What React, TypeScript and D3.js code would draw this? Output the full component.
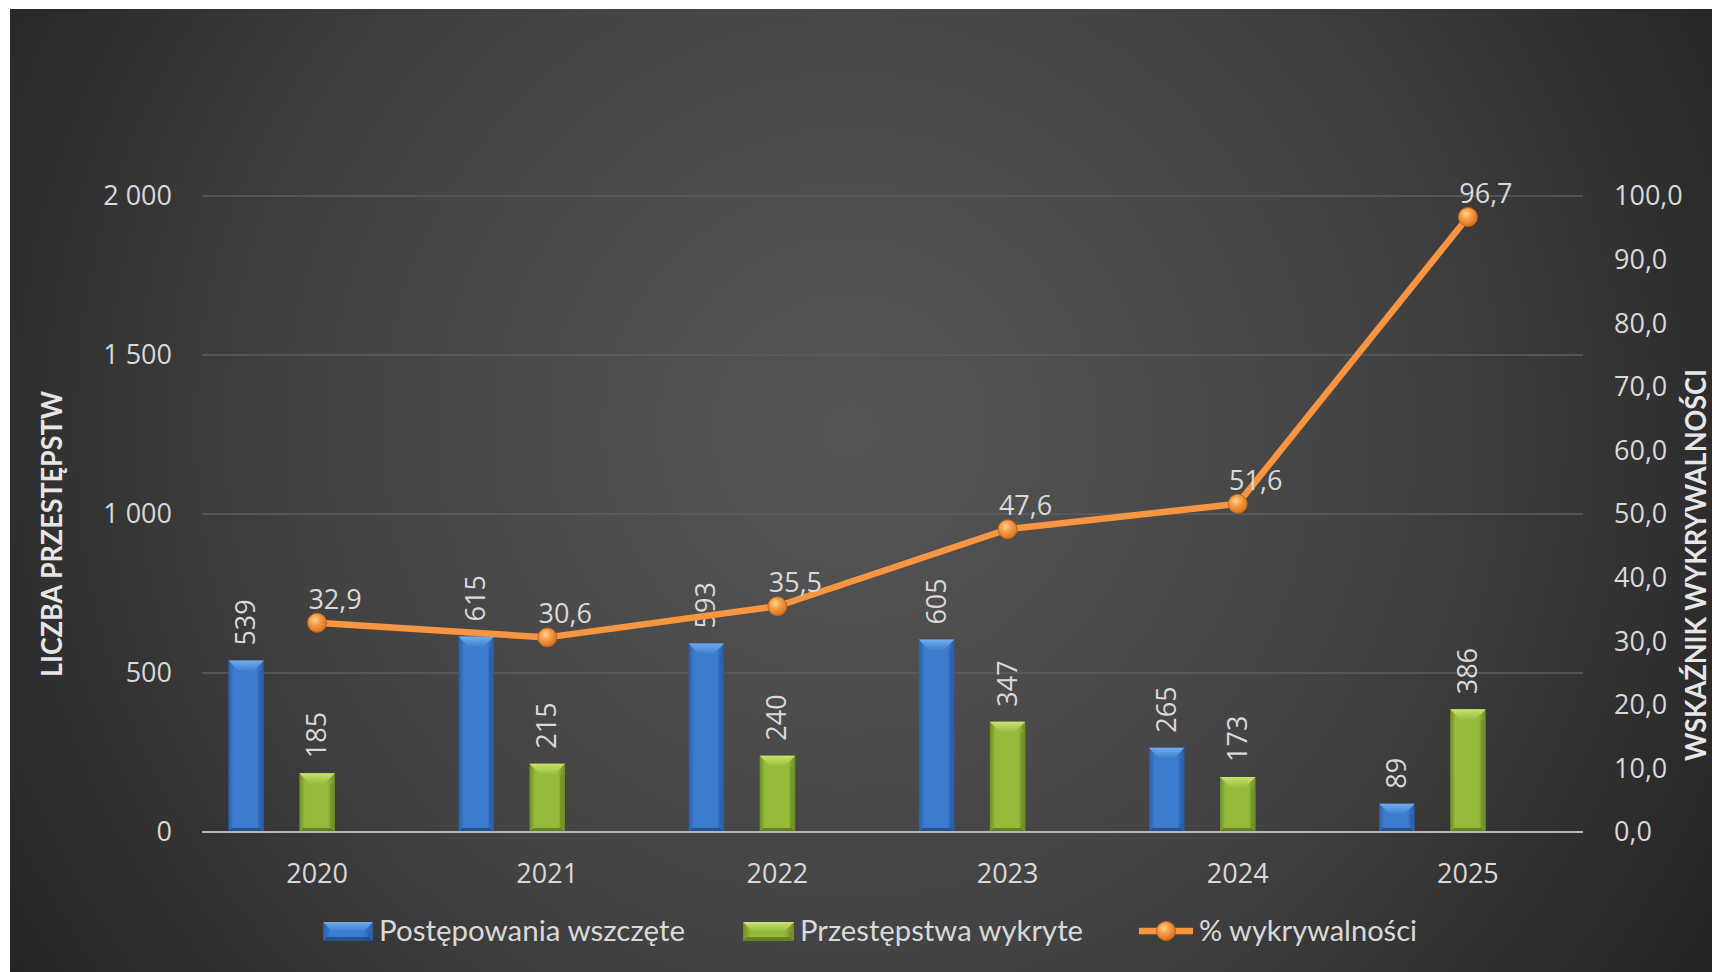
import React from 'react';
import * as d3 from 'd3';

const categories = ['2020', '2021', '2022', '2023', '2024', '2025'];
const initiated = [539, 615, 593, 605, 265, 89];
const detected = [185, 215, 240, 347, 173, 386];
const detectionRate = [32.9, 30.6, 35.5, 47.6, 51.6, 96.7];
const leftTicks = [0, 500, 1000, 1500, 2000];
const rightTicks = [0, 10, 20, 30, 40, 50, 60, 70, 80, 90, 100];
const seriesNames = ['Postępowania wszczęte', 'Przestępstwa wykryte', '% wykrywalności'];
const leftTitle = 'LICZBA PRZESTĘPSTW';
const rightTitle = 'WSKAŹNIK WYKRYWALNOŚCI';

const W = 1712;
const H = 972;
const PL = 202;
const PR = 1583;
const PT = 196;
const PB = 832;

const locale = d3.formatLocale({ decimal: ',', thousands: ' ', grouping: [3], currency: ['', ''] });
const fmtLeft = locale.format(',d');
const fmtRight = locale.format('.1f');

const NUM_FONT = "'Open Sans', 'DejaVu Sans', sans-serif";
const TXT_FONT = "Lato, 'Open Sans', sans-serif";
const TEXT_COLOR = '#d9d9d9';

const palette = {
  blue: { edge: '#2a5ca4', mid: '#3c7cce', top: '#74adee', bottom: '#1f4a86' },
  green: { edge: '#6c8d25', mid: '#96bb3b', top: '#cbe370', bottom: '#5a761d' },
};

function Bar({ x, y, w, h, c, id }: { x: number; y: number; w: number; h: number; c: any; id: string }) {
  const b = Math.min(11, h / 2);
  const s = Math.min(5, w / 4);
  const bb = Math.min(4, h / 4);
  return (
    <g>
      <rect x={x} y={y} width={w} height={h} fill={`url(#${id}-body)`} />
      <polygon
        points={`${x},${y} ${x + w},${y} ${x + w - b},${y + b} ${x + b},${y + b}`}
        fill={`url(#${id}-top)`}
      />
      <polygon
        points={`${x},${y + h} ${x + w},${y + h} ${x + w - bb},${y + h - bb} ${x + bb},${y + h - bb}`}
        fill={c.bottom}
        opacity={0.8}
      />
      <rect x={x + w - s} y={y + b} width={s} height={Math.max(0, h - b - bb)} fill={c.edge} opacity={0.55} />
    </g>
  );
}

export default function App() {
  const x0 = d3.scaleBand<string>().domain(categories).range([PL, PR]).padding(0);
  const x1 = d3
    .scaleBand<string>()
    .domain(['initiated', 'detected', 'spacer'])
    .range([0, x0.bandwidth()])
    .paddingInner(0.5)
    .paddingOuter(0.37);
  const yL = d3.scaleLinear().domain([0, 2000]).range([PB, PT]);
  const yR = d3.scaleLinear().domain([0, 100]).range([PB, PT]);
  const cx = (c: string) => (x0(c) as number) + x0.bandwidth() / 2;

  const linePath = d3
    .line<number>()
    .x((_, i) => cx(categories[i]))
    .y((d) => yR(d))(detectionRate) as string;

  const bw = x1.bandwidth();

  const bars: any[] = [];
  categories.forEach((c, i) => {
    [
      { key: 'initiated', v: initiated[i], col: palette.blue, id: 'blue' },
      { key: 'detected', v: detected[i], col: palette.green, id: 'green' },
    ].forEach((s) => {
      const bx = (x0(c) as number) + (x1(s.key) as number);
      const by = yL(s.v);
      bars.push({ c, key: s.key, x: bx, y: by, w: bw, h: PB - by, col: s.col, id: s.id, v: s.v });
    });
  });

  const legendY = 931;

  return (
    <svg
      width={W}
      height={H}
      viewBox={`0 0 ${W} ${H}`}
      style={{ position: 'absolute', left: 0, top: 0, display: 'block' }}
    >
      <defs>
        <radialGradient id="bg" gradientUnits="userSpaceOnUse" cx={850} cy={430} r={1000}>
          <stop offset="0" stopColor="#565656" />
          <stop offset="0.55" stopColor="#424242" />
          <stop offset="1" stopColor="#242424" />
        </radialGradient>
        {(['blue', 'green'] as const).map((k) => (
          <React.Fragment key={k}>
            <linearGradient id={`${k}-body`} x1="0" x2="1" y1="0" y2="0">
              <stop offset="0" stopColor={palette[k].edge} />
              <stop offset="0.15" stopColor={palette[k].mid} />
              <stop offset="0.8" stopColor={palette[k].mid} />
              <stop offset="1" stopColor={palette[k].edge} />
            </linearGradient>
            <linearGradient id={`${k}-top`} x1="0" x2="0" y1="0" y2="1">
              <stop offset="0" stopColor={palette[k].top} />
              <stop offset="1" stopColor={palette[k].mid} />
            </linearGradient>
          </React.Fragment>
        ))}
        <radialGradient id="marker" cx="0.4" cy="0.35" r="0.65">
          <stop offset="0" stopColor="#ffd79a" />
          <stop offset="0.4" stopColor="#f8a04a" />
          <stop offset="1" stopColor="#d8741d" />
        </radialGradient>
      </defs>

      <rect x={0} y={0} width={W} height={H} fill="#ffffff" />
      <rect x={10} y={9} width={W - 10} height={H - 9} fill="url(#bg)" />

      {/* gridlines */}
      {leftTicks
        .filter((t) => t !== 0)
        .map((t) => (
          <line key={t} x1={PL} x2={PR} y1={yL(t)} y2={yL(t)} stroke="#5e5e5e" strokeWidth={1.3} />
        ))}

      {/* left ticks */}
      {leftTicks.map((t) => (
        <text
          key={t}
          x={172}
          y={yL(t)}
          dy="0.35em"
          textAnchor="end"
          fill={TEXT_COLOR}
          fontFamily={NUM_FONT}
          fontSize={27}
        >
          {fmtLeft(t)}
        </text>
      ))}

      {/* right ticks */}
      {rightTicks.map((t) => (
        <text
          key={t}
          x={1614}
          y={yR(t)}
          dy="0.35em"
          textAnchor="start"
          fill={TEXT_COLOR}
          fontFamily={NUM_FONT}
          fontSize={27}
        >
          {fmtRight(t)}
        </text>
      ))}

      {/* axis titles */}
      <text
        transform={`translate(62,534) rotate(-90)`}
        textAnchor="middle"
        fill="#e6e6e6"
        fontFamily={TXT_FONT}
        fontWeight="bold"
        fontSize={29}
        textLength={286}
        lengthAdjust="spacingAndGlyphs"
      >
        {leftTitle}
      </text>
      <text
        transform={`translate(1706,565) rotate(-90)`}
        textAnchor="middle"
        fill="#e6e6e6"
        fontFamily={TXT_FONT}
        fontWeight="bold"
        fontSize={29}
        textLength={392}
        lengthAdjust="spacingAndGlyphs"
      >
        {rightTitle}
      </text>

      {/* bars */}
      {bars.map((b) => (
        <Bar key={b.c + b.key} x={b.x} y={b.y} w={b.w} h={b.h} c={b.col} id={b.id} />
      ))}

      {/* zero axis line */}
      <line x1={PL} x2={PR} y1={PB} y2={PB} stroke="#b5b5b5" strokeWidth={2} />

      {/* bar labels */}
      {bars.map((b) => (
        <text
          key={'l' + b.c + b.key}
          transform={`translate(${b.x + b.w / 2 + 9},${b.y - 15}) rotate(-90)`}
          textAnchor="start"
          fill={TEXT_COLOR}
          fontFamily={NUM_FONT}
          fontSize={27}
        >
          {b.v}
        </text>
      ))}

      {/* line */}
      <path d={linePath} fill="none" stroke="#f79541" strokeWidth={6.5} strokeLinejoin="round" />
      {detectionRate.map((v, i) => (
        <circle
          key={i}
          cx={cx(categories[i])}
          cy={yR(v)}
          r={9.5}
          fill="url(#marker)"
          stroke="#b9651b"
          strokeWidth={1}
        />
      ))}
      {detectionRate.map((v, i) => (
        <text
          key={'t' + i}
          x={cx(categories[i]) + 18}
          y={yR(v) - 14}
          textAnchor="middle"
          fill={TEXT_COLOR}
          fontFamily={NUM_FONT}
          fontSize={27}
        >
          {fmtRight(v)}
        </text>
      ))}

      {/* x labels */}
      {categories.map((c) => (
        <text
          key={c}
          x={cx(c)}
          y={883}
          textAnchor="middle"
          fill={TEXT_COLOR}
          fontFamily={NUM_FONT}
          fontSize={27}
        >
          {c}
        </text>
      ))}

      {/* legend */}
      <g>
        <Bar x={323} y={922} w={50} h={19} c={palette.blue} id="blue" />
        <text
          x={379}
          y={legendY + 10}
          fill={TEXT_COLOR}
          fontFamily={TXT_FONT}
          fontSize={28}
          textLength={306}
          lengthAdjust="spacingAndGlyphs"
        >
          {seriesNames[0]}
        </text>
        <Bar x={743} y={922} w={51} h={19} c={palette.green} id="green" />
        <text
          x={800}
          y={legendY + 10}
          fill={TEXT_COLOR}
          fontFamily={TXT_FONT}
          fontSize={28}
          textLength={283}
          lengthAdjust="spacingAndGlyphs"
        >
          {seriesNames[1]}
        </text>
        <line x1={1139} x2={1193} y1={legendY} y2={legendY} stroke="#f79541" strokeWidth={6.5} />
        <circle cx={1166} cy={legendY} r={9.5} fill="url(#marker)" stroke="#b9651b" strokeWidth={1} />
        <text
          x={1199}
          y={legendY + 10}
          fill={TEXT_COLOR}
          fontFamily={TXT_FONT}
          fontSize={28}
          textLength={218}
          lengthAdjust="spacingAndGlyphs"
        >
          {seriesNames[2]}
        </text>
      </g>
    </svg>
  );
}
